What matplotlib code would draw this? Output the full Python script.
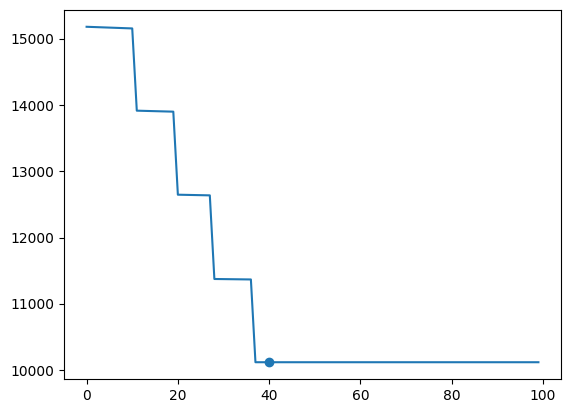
import matplotlib
matplotlib.use('Agg')
import matplotlib.pyplot as plt

# breakpoints of the stepped curve
steps_x = [0, 10, 11, 19, 20, 27, 28, 36, 37, 99]
steps_y = [15180, 15155, 13915, 13900, 12648, 12638, 11377, 11370, 10122, 10122]

# highlighted point
best_x = [40]
best_y = [10122]

fig = plt.figure(figsize=(5.69, 4.13), dpi=100)
ax = fig.add_axes([64 / 569, 34 / 413, 497 / 569, 369 / 413])
ax.plot(steps_x, steps_y, color='#1f77b4')
ax.scatter(best_x, best_y, color='#1f77b4', zorder=3)
ax.set_xticks([0, 20, 40, 60, 80, 100])
ax.set_yticks([10000, 11000, 12000, 13000, 14000, 15000])

fig.savefig('out.png', dpi=100)
